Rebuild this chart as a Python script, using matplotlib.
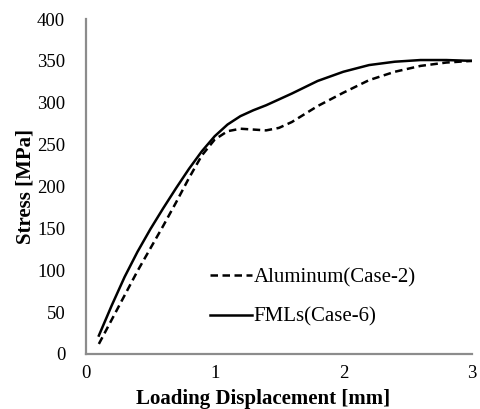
import matplotlib.pyplot as plt

plt.rcParams['font.family'] = ['Liberation Serif', 'DejaVu Serif']

# loading displacement [mm] and stress [MPa] for both cases
disp = [0.1, 0.2, 0.3, 0.4, 0.5, 0.6, 0.7, 0.8, 0.9, 1.0, 1.1, 1.2, 1.3, 1.4,
        1.5, 1.6, 1.8, 2.0, 2.2, 2.4, 2.6, 2.8, 3.0]
stress_al = [12, 41, 70, 99, 126, 153, 181, 210, 237, 256, 266, 269, 268, 267,
             270, 277, 296, 312, 327, 337, 344, 348, 350]
stress_fml = [22, 58, 92, 122, 149, 174, 198, 221, 242, 260, 274, 284, 291, 297,
              304, 311, 326, 337, 345, 349, 351, 351, 350]

fig = plt.figure(figsize=(4.81, 4.09), dpi=100)
ax = fig.add_axes([86 / 481, 1 - 354 / 409, 386 / 481, 335 / 409])

ax.plot(disp, stress_al, color='black', lw=1.8, ls=(0, (3, 1.8)), label='Aluminum(Case-2)')
ax.plot(disp, stress_fml, color='black', lw=1.8, label='FMLs(Case-6)')

ax.set_xlim(0, 3)
ax.set_ylim(0, 400)
ax.set_xticks([0, 1, 2, 3])
ax.set_yticks(range(0, 401, 50))
ax.tick_params(length=0, labelsize=13.5)
ax.tick_params(axis='y', pad=15)
ax.tick_params(axis='x', pad=8)

for s in ['top', 'right']:
    ax.spines[s].set_visible(False)
for s in ['left', 'bottom']:
    ax.spines[s].set_color('#8c8c8c')
    ax.spines[s].set_linewidth(1.6)

ax.set_xlabel('Loading Displacement [mm]', fontsize=15, fontweight='bold', labelpad=3)
ax.xaxis.set_label_coords(0.46, -0.105)
ax.set_ylabel('Stress [MPa]', fontsize=15, fontweight='bold', labelpad=1)

ax.legend(loc='upper left', bbox_to_anchor=(210 / 481, 1 - 268 / 409),
          bbox_transform=fig.transFigure, frameon=False, borderpad=0,
          borderaxespad=0, fontsize=15, handlelength=2.0, handletextpad=0.1,
          labelspacing=0.95)

fig.savefig('out.png', dpi=100)
